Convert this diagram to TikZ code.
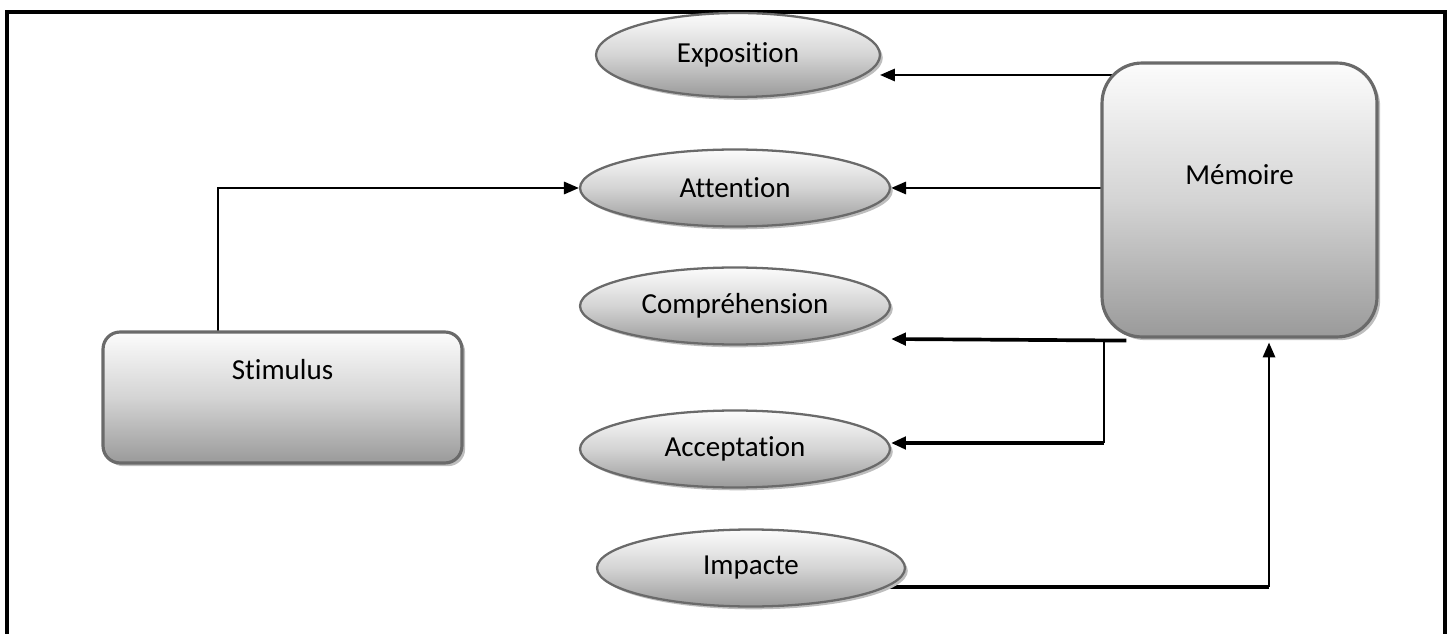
\documentclass[tikz,border=0pt]{standalone}
\usepackage{fontspec}
\setmainfont{Carlito}[Ligatures={NoCommon}]
\usetikzlibrary{shapes.geometric,shadows,arrows.meta,calc,backgrounds}
\definecolor{gtop}{HTML}{FCFCFC}
\definecolor{gmid}{HTML}{D4D4D4}
\definecolor{gbot}{HTML}{9A9A9A}
\definecolor{edge}{HTML}{6A6A6A}
\definecolor{shade}{HTML}{BEBEBE}
\begin{document}
\begin{tikzpicture}[x=0.02cm,y=-0.02cm,
  lbl/.style={font=\fontsize{16.5}{20}\selectfont, text=black},
  oval/.style={ellipse, draw=edge, line width=1.3pt,
    top color=gtop, bottom color=gbot, middle color=gmid, inner sep=0pt,
    drop shadow={shadow xshift=1.6pt, shadow yshift=-1.6pt, fill=shade, opacity=1},
    minimum width=6.2cm, minimum height=1.54cm, lbl},
  panel/.style={rectangle, draw=edge, line width=1.8pt,
    top color=gtop, bottom color=gbot, middle color=gmid, inner sep=0pt,
    drop shadow={shadow xshift=1.8pt, shadow yshift=-1.8pt, fill=shade, opacity=1}},
  link/.style={line width=1.3pt, -{Triangle[length=8.5pt,width=7pt]}},
  heavy link/.style={link, line width=2.1pt},
  plain/.style={line width=1.3pt, line cap=square},
  heavy/.style={line width=2.1pt, line cap=square}
]
\path[use as bounding box] (0,0) rectangle (1452,634);
\clip (0,0) rectangle (1452,634);

% outer frame (open at the bottom)
\draw[line width=2.3pt] (7,660) -- (7,12) -- (1445,12) -- (1445,660);

% process stages
\node[oval, minimum width=5.68cm, minimum height=1.68cm] (expo) at (738,55) {Exposition};
\node[oval] (att) at (735,188) {Attention};
\node[oval] (comp) at (735,306) {Compréhension};
\node[oval] (acc) at (735,449) {Acceptation};
\node[oval, minimum width=6.16cm] (imp) at (751,568) {Impacte};

% input and memory boxes
\node[panel, rounded corners=0.34cm, minimum width=7.18cm, minimum height=2.62cm,
  label={[lbl, yshift=0.55cm]center:Stimulus}] (stim) at (282.5,397.5) {};
\node[panel, rounded corners=0.8cm, minimum width=5.5cm, minimum height=5.48cm,
  label={[lbl, yshift=0.5cm]center:Mémoire}] (mem) at (1239.5,200) {};

% turning points of the connectors
\coordinate (sx) at (218,0);
\coordinate (e1) at (880,75);
\coordinate (c1) at (891,339);
\coordinate (j)  at (1104,339);
\coordinate (a1) at (891,443);
\coordinate (i1) at (1269,587);

\begin{scope}[on background layer]
  \draw[link] (stim.center -| sx) |- (att.west);
  \draw[link] (mem.center |- e1) -- (e1);
  \draw[link] (mem.center |- att.east) -- (att.east);
  \draw[heavy link] ($(mem.south west)+(26,2)$) -- (c1);
  \draw[plain] (j) -- (j |- a1);
  \draw[heavy link] (j |- a1) -- (a1);
  \draw[heavy] (imp.center |- i1) -- (i1);
  \draw[link] (i1) -- ($(i1 |- mem.south)+(0,4)$);
\end{scope}
\end{tikzpicture}
\end{document}
